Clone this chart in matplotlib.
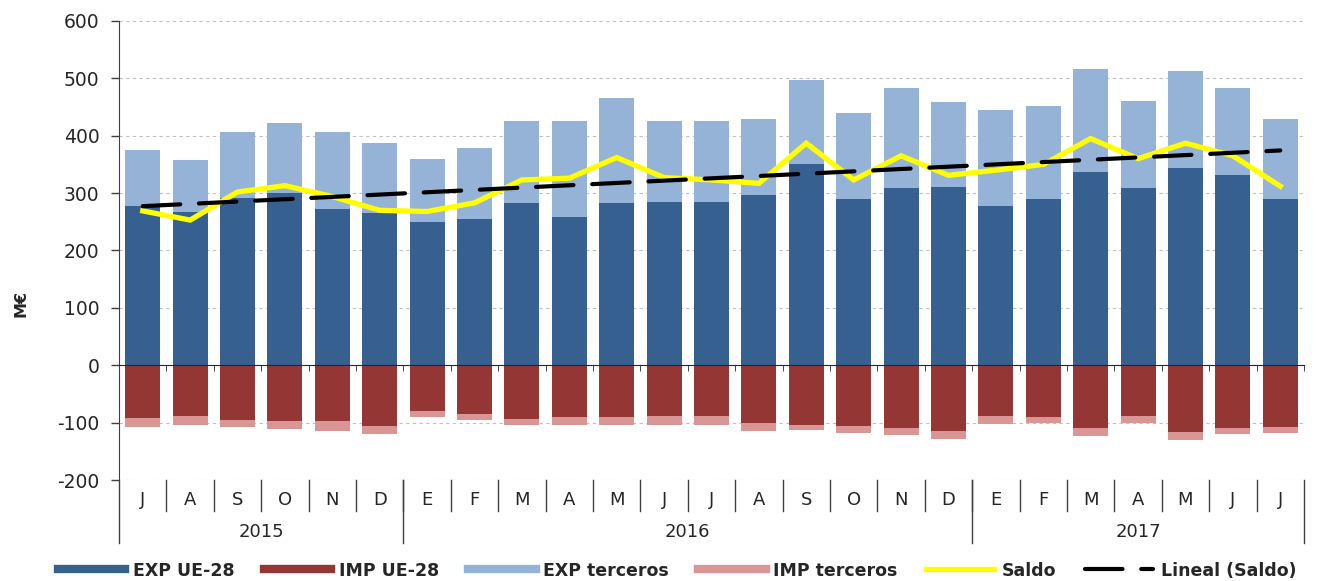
import numpy as np
import matplotlib.pyplot as plt
from matplotlib.lines import Line2D
import matplotlib.transforms as mtransforms

plt.rcParams['axes.unicode_minus'] = False

# Monthly values (M€), Jul 2015 - Jul 2017
MONTHS = ['J', 'A', 'S', 'O', 'N', 'D', 'E', 'F', 'M', 'A', 'M', 'J',
          'J', 'A', 'S', 'O', 'N', 'D', 'E', 'F', 'M', 'A', 'M', 'J', 'J']
YEARS = ['2015', '2016', '2017']
YEAR_SPAN = [6, 12, 7]  # months per year group

exp_ue = [278, 267, 291, 300, 272, 266, 249, 255, 283, 259, 283, 285, 285,
          297, 351, 290, 309, 311, 278, 290, 336, 309, 344, 332, 290]
exp_terc = [98, 90, 116, 122, 135, 122, 110, 123, 143, 167, 182, 141, 141,
            133, 147, 150, 174, 147, 166, 162, 180, 152, 169, 152, 140]
imp_ue = [-92, -89, -95, -97, -97, -105, -80, -85, -93, -91, -91, -89, -89,
          -101, -104, -105, -109, -115, -89, -91, -110, -89, -116, -109, -107]
imp_terc = [-15, -15, -12, -14, -18, -15, -11, -11, -11, -13, -13, -15, -15,
            -13, -8, -13, -13, -13, -14, -9, -14, -11, -14, -11, -11]
saldo = [269, 253, 302, 313, 294, 270, 268, 283, 323, 326, 362, 327, 323,
         317, 387, 323, 365, 331, 340, 350, 395, 360, 387, 365, 312]

C_EXP_UE = '#36608f'
C_IMP_UE = '#943634'
C_EXP_T = '#95b3d7'
C_IMP_T = '#d99694'
TXT = '#262626'

x = np.arange(1, len(MONTHS) + 1)

fig = plt.figure(figsize=(13.17, 5.81), dpi=100)
ax = fig.add_axes([0.0904, 0.1738, 0.8997, 0.7901])

w = 0.74
ax.bar(x, exp_ue, w, color=C_EXP_UE, zorder=2)
ax.bar(x, exp_terc, w, bottom=exp_ue, color=C_EXP_T, zorder=2)
ax.bar(x, imp_ue, w, color=C_IMP_UE, zorder=2)
ax.bar(x, imp_terc, w, bottom=imp_ue, color=C_IMP_T, zorder=2)

ax.plot(x, saldo, color='#ffff00', lw=3.8, zorder=3, solid_joinstyle='miter')

# linear trend of Saldo
k, b = np.polyfit(x, saldo, 1)
ax.plot(x, k * x + b, color='black', lw=3, dashes=(9, 4.5),
        dash_capstyle='round', zorder=4)

ax.set_xlim(0.5, len(MONTHS) + 0.5)
ax.set_ylim(-200, 600)
ax.set_yticks(np.arange(-200, 601, 100))
ax.tick_params(axis='y', length=6, width=1, color='#404040', pad=8,
               labelsize=13.5, labelcolor=TXT)
ax.yaxis.grid(True, color='#c0c0c0', lw=0.8, dashes=(3, 3))
ax.set_axisbelow(True)

for s in ['top', 'right']:
    ax.spines[s].set_visible(False)
ax.spines['left'].set_color('#404040')
ax.spines['bottom'].set_position(('data', 0))
ax.spines['bottom'].set_color('#262626')
ax.spines['bottom'].set_zorder(5)
ax.set_xticks([])
ax.set_xticks(np.arange(0.5, len(MONTHS) + 1), minor=True)
ax.tick_params(axis='x', which='minor', length=4, direction='out',
               color='#262626', labelbottom=False)

# category axis below plot area
trans = mtransforms.blended_transform_factory(ax.transData, ax.transAxes)
row1, row2 = -0.0675, -0.1373
for i, m in enumerate(MONTHS):
    ax.text(x[i], -0.0436, m, transform=trans, ha='center', va='center',
            fontsize=13, color=TXT)
for xs in np.arange(1.5, len(MONTHS) + 0.5):
    ax.plot([xs, xs], [0, row1], transform=trans, color='#404040', lw=1,
            clip_on=False)
start = 0.5
edges = [start]
for yr, n in zip(YEARS, YEAR_SPAN):
    ax.text(start + n / 2, -0.113, yr, transform=trans, ha='center',
            va='center', fontsize=13, color=TXT)
    start += n
    edges.append(start)
for xs in edges:
    ax.plot([xs, xs], [0, row2], transform=trans, color='#404040', lw=1,
            clip_on=False)

fig.text(0.016, 0.478, 'M€', rotation=90, ha='center', va='center',
         fontsize=11.5, fontweight='bold', color=TXT)

handles = [
    Line2D([], [], color=C_EXP_UE, lw=6),
    Line2D([], [], color=C_IMP_UE, lw=6),
    Line2D([], [], color=C_EXP_T, lw=6),
    Line2D([], [], color=C_IMP_T, lw=6),
    Line2D([], [], color='#ffff00', lw=3.8),
    Line2D([], [], color='black', lw=3, dashes=(9, 4.5), dash_capstyle='round'),
]
labels = ['EXP UE-28', 'IMP UE-28', 'EXP terceros', 'IMP terceros',
          'Saldo', 'Lineal (Saldo)']
fig.legend(handles, labels, loc='center', bbox_to_anchor=(0.514, 0.018),
           ncol=6, frameon=False, handlelength=3.9, handletextpad=0.45,
           columnspacing=1.65, prop={'weight': 'bold', 'size': 12.5},
           labelcolor=TXT)

fig.savefig('out.png', dpi=100)
